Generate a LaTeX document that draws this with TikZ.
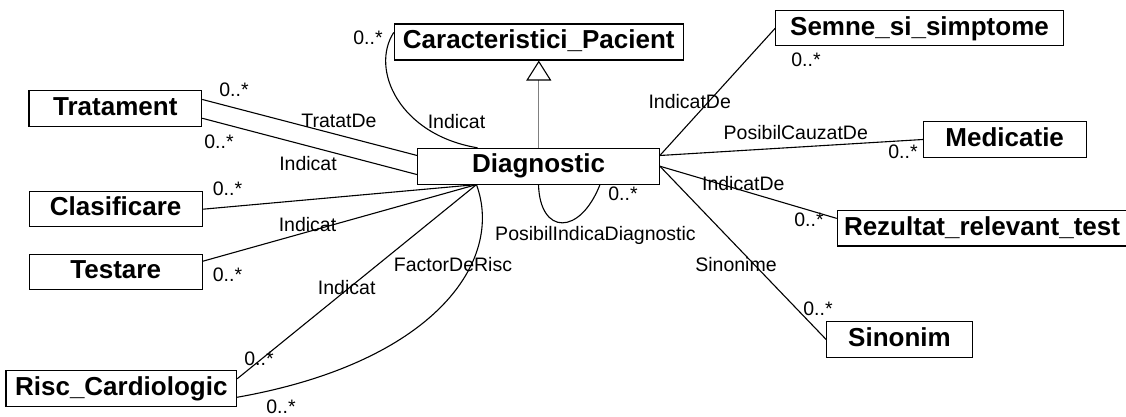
\documentclass[tikz,border=0pt]{standalone}
\usepackage{fontspec}
\setmainfont{Liberation Sans}
\usetikzlibrary{arrows.meta,calc}
\begin{document}
\begin{tikzpicture}[x=1pt,y=-1pt,
  cls/.style={draw, line width=1.1pt, fill=white, inner sep=0pt,
    text height=19pt, text depth=5.5pt,
    font=\fontsize{26}{30}\selectfont\bfseries},
  lbl/.style={inner sep=0pt, anchor=base, font=\fontsize{19.5}{22}\selectfont},
  assoc/.style={line width=1.1pt},
  gen/.style={draw=gray, line width=1.1pt,
    -{Triangle[length=20pt,width=25pt,fill=white,color=black]}}
]
\useasboundingbox (0,0) rectangle (1126,417);

% classes
\node[cls, minimum width=289pt,   minimum height=36pt]   (car)   at (538.8,42)    {Caracteristici\_Pacient};
\node[cls, minimum width=241.6pt, minimum height=35.7pt] (diag)  at (538.5,166.2) {Diagnostic};
\node[cls, minimum width=172.7pt, minimum height=36pt]   (trat)  at (115.3,108.7) {Tratament};
\node[cls, minimum width=173.3pt, minimum height=35pt]   (clas)  at (115.7,209.2) {Clasificare};
\node[cls, minimum width=173.3pt, minimum height=35.3pt] (test)  at (115.7,271.7) {Testare};
\node[cls, minimum width=230.7pt, minimum height=36pt]   (risc)  at (121.3,388.7) {Risc\_Cardiologic};
\node[cls, minimum width=287.6pt, minimum height=35.3pt] (semne) at (919.5,28.3)  {Semne\_si\_simptome};
\node[cls, minimum width=162.7pt, minimum height=35.6pt] (med)   at (1004.7,139.5) {Medicatie};
\node[cls, minimum width=289.4pt, minimum height=35.3pt] (rez)   at (982,228.3)   {Rezultat\_relevant\_test};
\node[cls, minimum width=145.6pt, minimum height=35.6pt] (sin)   at (899.5,339.5) {Sinonim};

% connection points on Diagnostic
\coordinate (hub) at ($(diag.south west)+(59.3,0)$);
\coordinate (ru)  at ($(diag.north east)+(0,7.7)$);

% generalization
\draw[gen] (car.south |- diag.north) -- (car.south);

% associations on the left
\draw[assoc] ($(trat.north east)+(0,9.3)$) -- ($(diag.north west)+(0,7.7)$);
\draw[assoc] ($(trat.south east)+(0,-9)$) -- ($(diag.south west)+(0,-10)$);
\draw[assoc] (clas.east) -- (hub);
\draw[assoc] ($(test.north east)+(0,7.7)$) -- (hub);
\draw[assoc] ($(risc.north east)+(0,8.6)$) -- (hub);
\draw[assoc] (hub) .. controls +(28,76) and +(198,-35) .. ($(risc.south east)+(0,-10)$);
\draw[assoc] ($(diag.north west)+(60.3,0)$) .. controls +(-78,-13) and +(-24,37) .. ($(car.north west)+(0,9)$);

% self association
\draw[assoc] (diag.south) .. controls +(1.5,51) and +(-20,51) .. ($(diag.south)+(61.5,0)$);

% associations on the right
\draw[assoc] (ru) -- (semne.west);
\draw[assoc] (ru) -- (med.west);
\draw[assoc] (diag.east) -- ($(rez.north west)+(0,8.3)$);
\draw[assoc] (diag.east) -- (sin.west);

% role names and multiplicities
\node[lbl] (m1)  at (368,45)     {0..*};
\node[lbl] (a1)  at (456.5,128.3) {Indicat};
\node[lbl] (a2)  at (339,127.7)  {TratatDe};
\node[lbl] (m2)  at (234,96.7)   {0..*};
\node[lbl] (m3)  at (219,148.3)  {0..*};
\node[lbl] (a3)  at (308,170)    {Indicat};
\node[lbl] (m4)  at (227.5,195)  {0..*};
\node[lbl] (a4)  at (307.5,231.7) {Indicat};
\node[lbl] (m5)  at (227.5,281.7) {0..*};
\node[lbl] (a5)  at (346.7,294.3) {Indicat};
\node[lbl] (a6)  at (453,271.7)  {FactorDeRisc};
\node[lbl] (m6)  at (259,365)    {0..*};
\node[lbl] (m7)  at (281,413)    {0..*};
\node[lbl] (a7)  at (595.5,240.7) {PosibilIndicaDiagnostic};
\node[lbl] (m8)  at (623,200.7)  {0..*};
\node[lbl] (a8)  at (736,271.7)  {Sinonime};
\node[lbl] (a9)  at (689.7,108.3) {IndicatDe};
\node[lbl] (m9)  at (806,66.7)   {0..*};
\node[lbl] (a10) at (795.8,139.3) {PosibilCauzatDe};
\node[lbl] (m10) at (903,158.3)  {0..*};
\node[lbl] (a11) at (743.3,190)  {IndicatDe};
\node[lbl] (m11) at (809,226)    {0..*};
\node[lbl] (m12) at (818,315)    {0..*};
\end{tikzpicture}
\end{document}
